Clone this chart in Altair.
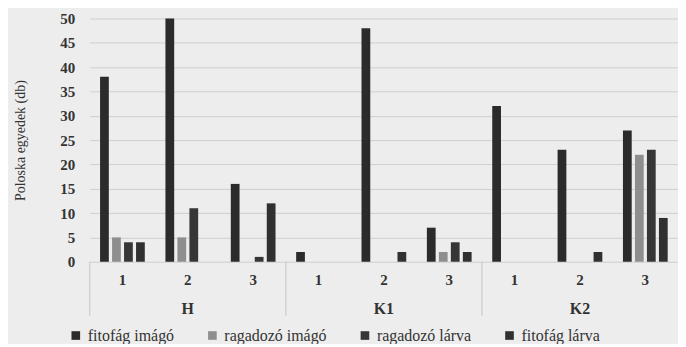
import altair as alt
import pandas as pd

groups = ["H", "H", "H", "K1", "K1", "K1", "K2", "K2", "K2"]
sites = ["1", "2", "3", "1", "2", "3", "1", "2", "3"]
series_names = ["fitofág imágó", "ragadozó imágó", "ragadozó lárva", "fitofág lárva"]
fitofag_imago = [38, 50, 16, 2, 48, 7, 32, 23, 27]
ragadozo_imago = [5, 5, 0, 0, 0, 2, 0, 0, 22]
ragadozo_larva = [4, 11, 1, 0, 0, 4, 0, 0, 23]
fitofag_larva = [4, 0, 12, 0, 2, 2, 0, 2, 9]
colors = ["#2b2b2b", "#8e8e8e", "#363636", "#303030"]

rows = []
for vals, name in zip([fitofag_imago, ragadozo_imago, ragadozo_larva, fitofag_larva], series_names):
    for g, s, v in zip(groups, sites, vals):
        rows.append({"group": g, "site": s, "key": g + "|" + s, "series": name, "value": v})
df = pd.DataFrame(rows)
keys = [g + "|" + s for g, s in zip(groups, sites)]

FONT = "Liberation Serif"
PW, PH = 590, 244

xscale = alt.Scale(domain=keys, paddingInner=0, paddingOuter=0)

bars = alt.Chart(df).mark_bar().encode(
    x=alt.X("key:N", title=None, scale=xscale, sort=keys,
            axis=alt.Axis(labelAngle=0, ticks=False, domain=False, labelPadding=11,
                          labelExpr="split(datum.value, '|')[1]",
                          labelFontSize=15, labelFont=FONT, labelColor="#333",
                          labelFontWeight="bold")),
    xOffset=alt.XOffset("series:N", sort=series_names,
                        scale=alt.Scale(domain=series_names, paddingInner=0.27, paddingOuter=0.86)),
    y=alt.Y("value:Q", title="Poloska egyedek (db)",
            scale=alt.Scale(domain=[0, 50], nice=False),
            axis=alt.Axis(values=list(range(0, 51, 5)), ticks=False, domain=False,
                          gridColor="#cfcfcf", labelPadding=15, labelFontSize=15,
                          labelFont=FONT, labelColor="#333", labelFontWeight="bold",
                          titleFont=FONT, titleFontSize=14, titleFontWeight="normal",
                          titleColor="#333", titlePadding=32)),
    color=alt.Color("series:N", sort=series_names,
                    scale=alt.Scale(domain=series_names, range=colors),
                    legend=alt.Legend(title=None, orient="none", direction="horizontal",
                                      legendX=-22, legendY=310, symbolType="square",
                                      symbolSize=75, labelFont=FONT, labelFontSize=16,
                                      labelColor="#333", columnPadding=30, labelOffset=4,
                                      symbolStrokeWidth=0)),
)

first_rows = df[(df["site"] == "1") & (df["series"] == series_names[0])]
mid_rows = df[(df["site"] == "2") & (df["series"] == series_names[0])]

sep = alt.Chart(first_rows).mark_rule(color="#c4c4c4", strokeWidth=1).encode(
    x=alt.X("key:N", scale=xscale, bandPosition=0),
    y=alt.value(PH), y2=alt.value(PH + 54),
)

grp = alt.Chart(mid_rows).mark_text(font=FONT, fontSize=16, fontWeight="bold",
                                    color="#333", baseline="middle").encode(
    x=alt.X("key:N", scale=xscale),
    y=alt.value(PH + 47),
    text="group:N",
)

chart = alt.layer(bars, sep, grp).properties(
    width=PW, height=PH,
    background="#ededed",
    padding={"left": 6, "top": 3, "right": 0, "bottom": 0},
).configure_view(stroke=None)

chart.save("out.html", embed_options={"renderer": "svg", "actions": False})
